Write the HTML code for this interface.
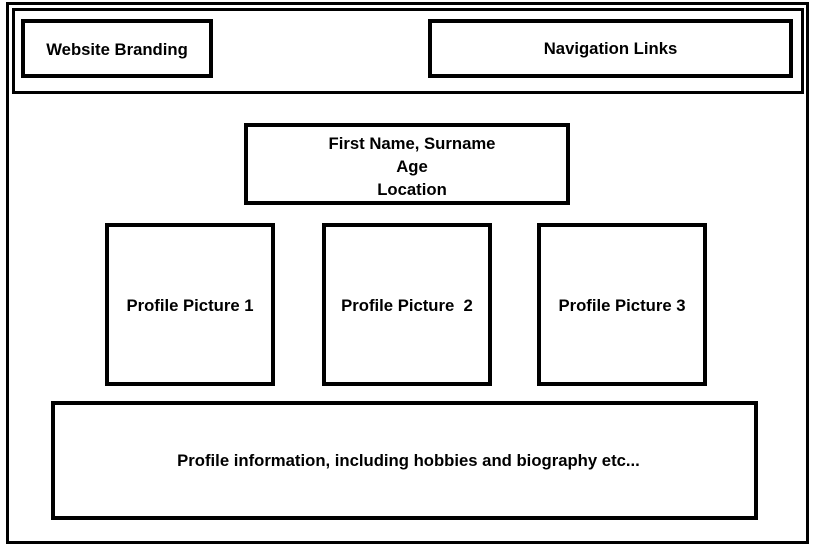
<!DOCTYPE html>
<html><head><meta charset="utf-8"><style>
html,body{margin:0;padding:0;background:#fff;width:813px;height:551px;overflow:hidden}
.b{position:absolute;box-sizing:border-box;border:3px solid #000;display:flex;align-items:center;justify-content:center;text-align:center;font-family:"Liberation Sans",sans-serif;font-weight:bold;font-size:16.7px;color:#000;line-height:23px}
</style></head><body>
<div class="b" style="left:6px;top:2px;width:803px;height:542px"></div>
<div class="b" style="left:12px;top:8px;width:792px;height:86px"></div>
<div class="b" style="left:21px;top:19px;width:192px;height:59px;border-width:4px;padding-top:2px">Website Branding</div>
<div class="b" style="left:428px;top:19px;width:365px;height:59px;border-width:4px">Navigation Links</div>
<div class="b" style="left:244px;top:123px;width:326px;height:82px;border-width:4px;padding-left:10px;padding-top:4px">First Name, Surname<br>Age<br>Location</div>
<div class="b" style="left:105px;top:223px;width:170px;height:163px;border-width:4px;padding-top:1px">Profile Picture 1</div>
<div class="b" style="left:322px;top:223px;width:170px;height:163px;border-width:4px;padding-top:1px;white-space:pre">Profile Picture  2</div>
<div class="b" style="left:537px;top:223px;width:170px;height:163px;border-width:4px;padding-top:1px">Profile Picture 3</div>
<div class="b" style="left:51px;top:401px;width:707px;height:119px;border-width:4px;padding-left:8px;padding-top:0px">Profile information, including hobbies and biography etc...</div>
</body></html>
